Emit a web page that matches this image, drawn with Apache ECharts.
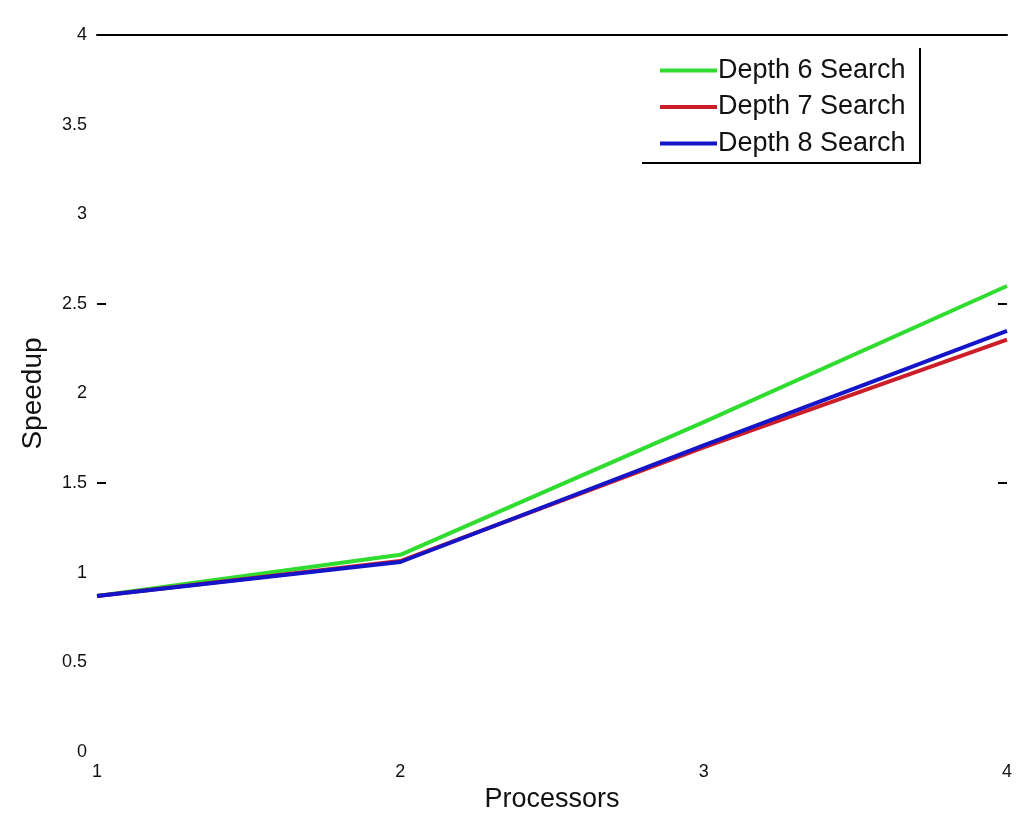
<!DOCTYPE html>
<html>
<head>
<meta charset="utf-8">
<script src="https://cdn.jsdelivr.net/npm/echarts@6/dist/echarts.min.js"></script>
<style>
html,body{margin:0;padding:0;background:#fff;}
#chart{width:1019px;height:814px;}
</style>
</head>
<body>
<div id="chart"></div>
<script>
var processors = [1, 2, 3, 4];
var depth6 = [0.87, 1.10, 1.84, 2.60];
var depth7 = [0.87, 1.065, 1.70, 2.30];
var depth8 = [0.87, 1.06, 1.71, 2.35];
var seriesNames = ['Depth 6 Search', 'Depth 7 Search', 'Depth 8 Search'];
var yTickLabels = ['0', '0.5', '1', '1.5', '2', '2.5', '3', '3.5', '4'];
var xTickLabels = ['1', '2', '3', '4'];

function pairs(xs, ys) { return xs.map(function (x, i) { return [x, ys[i]]; }); }

var chart = echarts.init(document.getElementById('chart'));
var font = 'Liberation Sans, Arial, sans-serif';
chart.setOption({
  animation: false,
  backgroundColor: '#fff',
  grid: { left: 97, right: 12, top: 35, bottom: 62, containLabel: false, outerBoundsMode: 'none' },
  xAxis: [{
    type: 'value', min: 1, max: 4, interval: 1,
    name: 'Processors', nameLocation: 'middle', nameGap: 34,
    nameTextStyle: { fontFamily: font, fontSize: 27, color: '#111' },
    axisLine: { show: false },
    axisTick: { show: false },
    splitLine: { show: false },
    axisLabel: { fontFamily: font, fontSize: 18, color: '#111', margin: 11,
      formatter: function (v) { return xTickLabels[v - 1]; } }
  }, {
    type: 'value', min: 1, max: 4, position: 'top',
    axisLine: { show: true, onZero: false, lineStyle: { color: '#000', width: 2 } },
    axisTick: { show: false }, axisLabel: { show: false }, splitLine: { show: false }
  }],
  yAxis: [{
    type: 'value', min: 0, max: 4, interval: 0.5,
    name: 'Speedup', nameLocation: 'middle', nameGap: 50,
    nameTextStyle: { fontFamily: font, fontSize: 28, color: '#111' },
    axisLine: { show: false },
    axisTick: { show: true, inside: true, length: 9, customValues: [1.5, 2.5], lineStyle: { color: '#000', width: 2 } },
    splitLine: { show: false },
    axisLabel: { fontFamily: font, fontSize: 18, color: '#111', margin: 10,
      formatter: function (v) { return yTickLabels[Math.round(v * 2)]; } }
  }, {
    type: 'value', min: 0, max: 4, interval: 0.5, position: 'right',
    axisLine: { show: false },
    axisTick: { show: true, inside: true, length: 9, customValues: [1.5, 2.5], lineStyle: { color: '#000', width: 2 } },
    axisLabel: { show: false }, splitLine: { show: false }
  }],
  legend: {
    orient: 'vertical', left: 655, top: 52,
    icon: 'rect', itemWidth: 57, itemHeight: 4, itemGap: 9.5,
    textStyle: { fontFamily: font, fontSize: 27, lineHeight: 26, color: '#111', padding: [0, 0, 0, -4] },
    data: seriesNames
  },
  graphic: [{
    type: 'polyline', silent: true,
    shape: { points: [[920, 48], [920, 163], [642, 163]] },
    style: { stroke: '#000', lineWidth: 2, fill: null }
  }],
  series: [{
    name: seriesNames[0], type: 'line', data: pairs(processors, depth6),
    symbol: 'none', lineStyle: { color: '#2fdc2f', width: 4 }, itemStyle: { color: '#2fdc2f' }
  }, {
    name: seriesNames[1], type: 'line', data: pairs(processors, depth7),
    symbol: 'none', lineStyle: { color: '#cc1e28', width: 4 }, itemStyle: { color: '#cc1e28' }
  }, {
    name: seriesNames[2], type: 'line', data: pairs(processors, depth8),
    symbol: 'none', lineStyle: { color: '#1414c8', width: 4 }, itemStyle: { color: '#1414c8' }
  }]
});
</script>
</body>
</html>
